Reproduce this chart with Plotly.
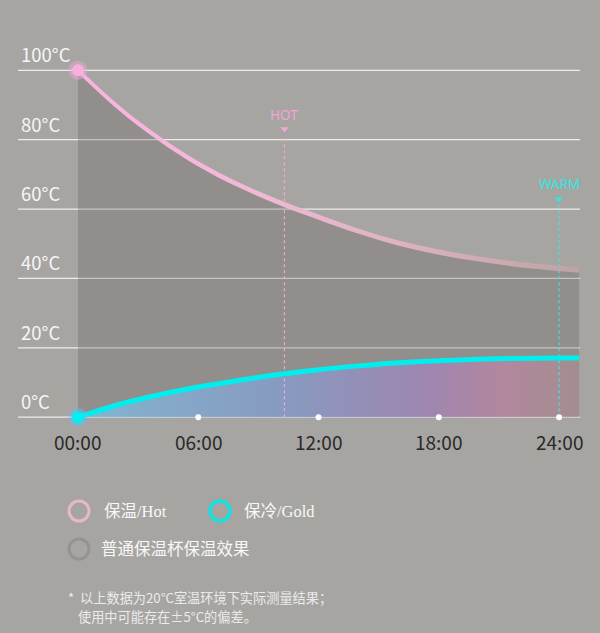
import plotly.graph_objects as go

## readings (hours, °C)
hours = [0, 2, 4, 6, 8, 10, 12, 14, 16, 18, 20, 22, 24, 25]
hot_temp = [100, 89.4, 80.5, 73.0, 67.0, 62.0, 57.7, 53.6, 50.2, 47.6, 45.6, 44.0, 42.9, 42.4]
cold_temp = [0, 3.6, 6.4, 8.7, 10.6, 12.3, 13.7, 14.8, 15.7, 16.3, 16.7, 16.95, 17.05, 17.05]

y_ticks = [0, 20, 40, 60, 80, 100]
y_labels = ["0°C", "20°C", "40°C", "60°C", "80°C", "100°C"]
x_ticks = [0, 6, 12, 18, 24]
x_labels = ["00:00", "06:00", "12:00", "18:00", "24:00"]

mark_hours = [10.3, 24]
mark_names = ["HOT", "WARM"]

W, H = 600, 633
X0, X1 = -3.89, 26.04
Y0, Y1 = -62.2, 120.26


def ty(py):
    # pixel row -> temperature on the y axis
    return Y1 - py / H * (Y1 - Y0)


def pp(py):
    # pixel row -> paper y
    return 1 - py / H


CJK = "Noto Sans CJK SC"
CYAN = "#00eeee"

fig = go.Figure()

# grey area under the ordinary cup curve
fig.add_trace(go.Scatter(x=hours, y=hot_temp, mode="lines", line=dict(width=0, shape="spline"),
                         fill="tozeroy", fillcolor="rgba(95,82,82,0.28)", hoverinfo="skip"))

# coloured area under the cold curve
fig.add_trace(go.Scatter(x=hours, y=cold_temp, mode="lines", line=dict(width=0, shape="spline"),
                         fill="tozeroy",
                         fillgradient=dict(type="horizontal", colorscale=[
                             [0.0, "rgba(125,195,230,0.75)"],
                             [0.4, "rgba(130,160,215,0.70)"],
                             [0.7, "rgba(165,130,195,0.65)"],
                             [0.85, "rgba(200,130,170,0.60)"],
                             [1.0, "rgba(185,140,150,0.45)"]]),
                         hoverinfo="skip"))

# dotted HOT / WARM guides
mark_colors = ["rgba(245,170,215,0.95)", "rgba(60,230,225,0.95)"]
mark_tops = [ty(136), ty(205)]
for h, top, c in zip(mark_hours, mark_tops, mark_colors):
    fig.add_trace(go.Scatter(x=[h, h], y=[0, top], mode="lines",
                             line=dict(color=c, width=1.2, dash="dot"), hoverinfo="skip"))

# hot curve drawn as a thin band so it can fade from pink to grey
band = 0.75
fig.add_trace(go.Scatter(x=hours, y=[t + band for t in hot_temp], mode="lines",
                         line=dict(width=0, shape="spline"), hoverinfo="skip"))
fig.add_trace(go.Scatter(x=hours, y=[t - band for t in hot_temp], mode="lines",
                         line=dict(width=0, shape="spline"), fill="tonexty",
                         fillgradient=dict(type="horizontal", colorscale=[
                             [0.0, "#fbb2e2"],
                             [0.35, "#f1b9d6"],
                             [0.65, "#dcb3bf"],
                             [1.0, "#bea3a5"]]),
                         hoverinfo="skip"))

# cold curve
fig.add_trace(go.Scatter(x=hours, y=cold_temp, mode="lines",
                         line=dict(color=CYAN, width=5, shape="spline"), hoverinfo="skip"))

# start points with halo
fig.add_trace(go.Scatter(x=[hours[0], hours[0]], y=[hot_temp[0], cold_temp[0]], mode="markers",
                         marker=dict(size=19, color=["rgba(240,170,215,0.45)", "rgba(90,190,255,0.45)"]),
                         hoverinfo="skip"))
fig.add_trace(go.Scatter(x=[hours[0], hours[0]], y=[hot_temp[0], cold_temp[0]], mode="markers",
                         marker=dict(size=12, color=["#f7b0dc", "#00f0ee"]), hoverinfo="skip"))

# small white marks on the baseline
fig.add_trace(go.Scatter(x=x_ticks[1:], y=[0] * (len(x_ticks) - 1), mode="markers",
                         marker=dict(size=6, color="white"), hoverinfo="skip"))

# triangles under HOT / WARM
fig.add_trace(go.Scatter(x=mark_hours, y=[ty(129), ty(199)], mode="markers",
                         marker=dict(symbol="triangle-down", size=7, color=["#f4a6d6", "#33e6e0"]),
                         hoverinfo="skip"))

shapes = []
for v in y_ticks:
    shapes.append(dict(type="line", xref="paper", yref="y", x0=18 / W, x1=580 / W, y0=v, y1=v,
                       line=dict(color="rgba(255,255,255,0.8)", width=1.3), layer="below"))

# legend rings
rings = [(79, 511, "#e8b6cf", 3), (220, 511, "#12e2e0", 3.5), (79, 549, "#959391", 3)]
for cx, cy, col, lw in rings:
    shapes.append(dict(type="circle", xref="paper", yref="paper",
                       x0=(cx - 10) / W, x1=(cx + 10) / W, y0=pp(cy + 10), y1=pp(cy - 10),
                       line=dict(color=col, width=lw)))

annotations = []
for v, lab in zip(y_ticks, y_labels):
    annotations.append(dict(x=19 / W, xref="paper", y=v, yref="y", text=lab, showarrow=False,
                            xanchor="left", yanchor="bottom", yshift=1,
                            font=dict(family=CJK, size=18.5, color="#f6f6f6")))
for v, lab in zip(x_ticks, x_labels):
    annotations.append(dict(x=v, y=0, text=lab, showarrow=False, yanchor="middle", yshift=-24,
                            font=dict(family=CJK, size=19, color="#2a2a2a")))

label_rows = [115, 184]
label_colors = ["#f4a6d6", "#33e6e0"]
for h, name, row, col in zip(mark_hours, mark_names, label_rows, label_colors):
    annotations.append(dict(x=h, y=pp(row), yref="paper", text=name, showarrow=False,
                            yanchor="middle", font=dict(family="Noto Sans", size=13.5, color=col)))

legend_text = [(102, 511, "保温/Hot"), (242, 511, "保冷/Gold"), (99, 549, "普通保温杯保温效果")]
for lx, ly, txt in legend_text:
    annotations.append(dict(x=lx / W, xref="paper", y=pp(ly), yref="paper", text=txt, showarrow=False,
                            xanchor="left", yanchor="middle",
                            font=dict(family="Liberation Serif, " + CJK, size=16.5, color="#f8f8f8")))

annotations.append(dict(x=66 / W, xref="paper", y=pp(597), yref="paper", showarrow=False,
                        text="*  以上数据为20°C室温环境下实际测量结果；", xanchor="left", yanchor="middle",
                        font=dict(family=CJK, size=13.2, color="#ebebeb")))
annotations.append(dict(x=76 / W, xref="paper", y=pp(616), yref="paper", showarrow=False,
                        text="使用中可能存在±5°C的偏差。", xanchor="left", yanchor="middle",
                        font=dict(family=CJK, size=13.2, color="#ebebeb")))

fig.update_layout(
    width=W, height=H, autosize=False,
    margin=dict(l=0, r=0, t=0, b=0),
    paper_bgcolor="#a7a5a2",
    plot_bgcolor="rgba(0,0,0,0)",
    showlegend=False,
    xaxis=dict(range=[X0, X1], visible=False, fixedrange=True),
    yaxis=dict(range=[Y0, Y1], visible=False, fixedrange=True),
    shapes=shapes,
    annotations=annotations,
)

# drop the browser's default page margin so the chart fills the window
fig.write_html("out.html", config={"displayModeBar": False},
               post_script="document.body.style.margin='0px';")
